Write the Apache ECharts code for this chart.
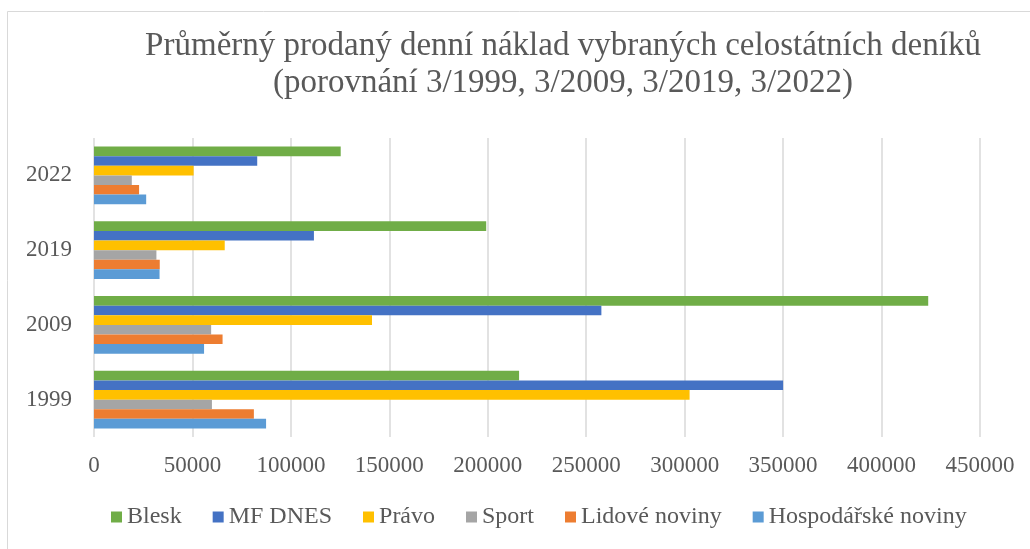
<!DOCTYPE html>
<html>
<head>
<meta charset="utf-8">
<script src="https://cdn.jsdelivr.net/npm/echarts@6/dist/echarts.min.js"></script>
<style>
  html, body { margin: 0; padding: 0; background: #fff; }
  #main { width: 1030px; height: 549px; }
</style>
</head>
<body>
<div id="main"></div>
<script>
const years = ["1999", "2009", "2019", "2022"];

// values per series, in the order of years
const hospodarske = [87400, 55900, 33300, 26500];
const lidove = [81200, 65300, 33400, 22900];
const sport = [59900, 59500, 31700, 19200];
const pravo = [302500, 141200, 66400, 50600];
const mfdnes = [350000, 257700, 111700, 82900];
const blesk = [215900, 423700, 199200, 125300];

const legendOrder = ["Blesk", "MF DNES", "Právo", "Sport", "Lidové noviny", "Hospodářské noviny"];

const font = "'Liberation Serif', 'Times New Roman', serif";
const textColor = "#595959";

const chart = echarts.init(document.getElementById("main"));

function bar(name, data, color) {
    return {
        name: name,
        type: "bar",
        data: data,
        barGap: "0%",
        barCategoryGap: "23%",
        itemStyle: { color: color },
        emphasis: { disabled: true }
    };
}

option = {
    animation: false,
    backgroundColor: "#fff",
    title: {
        text: "Průměrný prodaný denní náklad vybraných celostátních deníků\n(porovnání 3/1999, 3/2009, 3/2019, 3/2022)",
        left: 558,
        textAlign: "center",
        top: 23,
        textStyle: {
            fontFamily: font,
            fontSize: 33,
            fontWeight: "normal",
            color: textColor,
            lineHeight: 37
        }
    },
    legend: {
        data: legendOrder,
        bottom: 15,
        left: 106,
        itemWidth: 11,
        itemHeight: 11,
        itemGap: 31,
        icon: "rect",
        textStyle: {
            fontFamily: font,
            fontSize: 24,
            color: textColor
        }
    },
    grid: {
        left: 94,
        right: 50,
        top: 138,
        bottom: 112
    },
    xAxis: {
        type: "value",
        min: 0,
        max: 450000,
        interval: 50000,
        axisLine: { show: false },
        axisTick: { show: false },
        splitLine: { lineStyle: { color: "#d9d9d9", width: 1.5 } },
        axisLabel: {
            margin: 17,
            fontFamily: font,
            fontSize: 23,
            color: textColor,
            formatter: (v) => String(v)
        }
    },
    yAxis: {
        type: "category",
        data: years,
        axisLine: { show: false },
        axisTick: { show: false },
        axisLabel: {
            margin: 22,
            fontFamily: font,
            fontSize: 23,
            color: textColor
        }
    },
    graphic: [{
        type: "rect",
        shape: { x: 7.5, y: 11.5, width: 1040, height: 560 },
        style: { fill: "none", stroke: "#d9d9d9", lineWidth: 1 },
        silent: true
    }],
    series: [
        bar("Blesk", blesk, "#70AD47"),
        bar("MF DNES", mfdnes, "#4472C4"),
        bar("Právo", pravo, "#FFC000"),
        bar("Sport", sport, "#A5A5A5"),
        bar("Lidové noviny", lidove, "#ED7D31"),
        bar("Hospodářské noviny", hospodarske, "#5B9BD5")
    ]
};

chart.setOption(option);
</script>
</body>
</html>
